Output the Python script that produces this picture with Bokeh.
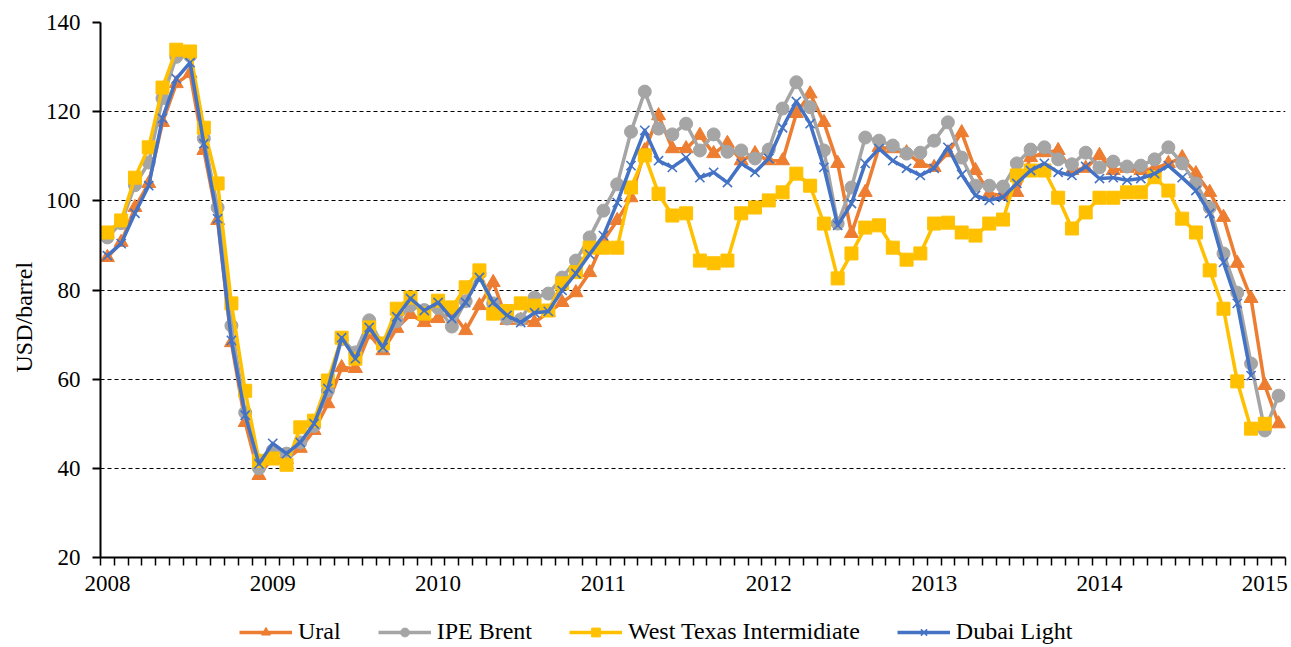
from bokeh.plotting import figure
from bokeh.layouts import column
from bokeh.models import Range1d, FixedTicker, Legend, LegendItem, Title
from bokeh.embed import file_html
from bokeh.resources import INLINE

# Monthly values, Jan 2008 onward (USD/barrel)
ural = [87.3, 90.7, 98.5, 103.9, 117.6, 126.3, 128.6, 111.3, 95.6, 68.2, 50.3, 38.4,
        42.5, 42.0, 44.5, 48.5, 54.5, 62.6, 62.4, 70.0, 66.4, 71.4, 74.5, 72.7,
        73.6, 75.0, 70.9, 76.5, 81.7, 73.2, 73.2, 72.7, 75.0, 77.2, 79.4, 83.9,
        91.1, 95.6, 100.7, 111.3, 119.1, 111.7, 111.7, 114.7, 110.6, 112.9, 109.0, 110.6,
        109.0, 109.0, 119.6, 124.0, 117.6, 108.4, 92.7, 101.9, 112.0, 111.7, 110.8, 108.4,
        107.5, 110.8, 115.3, 106.8, 101.6, 101.2, 101.9, 109.7, 110.8, 111.3, 106.8, 107.3,
        110.2, 106.8, 107.3, 106.8, 107.3, 108.4, 109.7, 106.1, 101.9, 96.3, 86.0, 78.1,
        58.6, 50.0]
brent = [91.8, 95.0, 103.5, 108.6, 123.0, 132.3, 132.5, 114.0, 98.5, 72.0, 52.5, 40.0,
         44.0, 43.3, 45.8, 49.5, 57.4, 69.0, 66.0, 73.2, 67.5, 73.0, 76.5, 75.5,
         76.0, 71.8, 77.5, 83.7, 77.0, 73.6, 73.4, 78.3, 79.2, 82.8, 86.6, 91.8,
         97.8, 103.7, 115.5, 124.5, 116.2, 114.9, 117.3, 111.3, 114.9, 111.0, 111.3, 109.5,
         111.5, 120.7, 126.6, 121.0, 111.3, 94.9, 103.0, 114.2, 113.5, 112.4, 110.6, 110.8,
         113.5, 117.6, 109.7, 103.4, 103.4, 103.2, 108.4, 111.5, 112.0, 109.3, 108.2, 110.8,
         107.5, 108.8, 107.7, 107.9, 109.3, 112.0, 108.4, 103.9, 98.5, 88.2, 79.4, 63.5,
         48.5, 56.3]
wti = [92.9, 95.6, 105.2, 112.0, 125.4, 133.9, 133.5, 116.4, 103.9, 77.0, 57.4, 41.7,
       42.2, 40.8, 49.2, 50.7, 59.7, 69.3, 64.6, 71.6, 68.0, 75.8, 78.3, 74.7,
       77.6, 76.1, 80.6, 84.4, 74.7, 75.3, 77.0, 76.5, 75.4, 81.5, 84.0, 89.5,
       89.5, 89.5, 103.0, 110.2, 101.6, 96.7, 97.2, 86.6, 86.0, 86.6, 97.2, 98.5,
       100.1, 101.9, 106.1, 103.4, 94.9, 82.6, 88.2, 94.0, 94.5, 89.5, 86.8, 88.2,
       94.9, 95.1, 92.9, 92.2, 94.9, 95.8, 105.7, 106.8, 106.8, 100.7, 93.8, 97.4,
       100.7, 100.7, 101.9, 101.9, 105.3, 102.3, 96.0, 92.9, 84.4, 75.8, 59.5, 48.9,
       50.0]
dubai = [87.7, 90.4, 97.2, 103.4, 118.5, 127.4, 131.0, 112.8, 96.0, 68.7, 51.9, 41.0,
         45.6, 43.3, 45.8, 50.0, 57.9, 69.3, 64.6, 71.6, 67.1, 74.0, 78.1, 75.4,
         77.2, 73.6, 77.2, 82.8, 77.2, 74.3, 72.7, 74.9, 75.2, 79.9, 83.7, 88.0,
         92.2, 99.6, 107.9, 115.8, 109.0, 107.5, 109.7, 105.2, 106.4, 104.1, 108.4, 106.4,
         109.5, 116.4, 122.3, 117.3, 107.5, 94.5, 99.4, 108.4, 111.7, 109.0, 107.3, 105.7,
         107.3, 112.0, 105.9, 101.2, 100.1, 100.8, 103.9, 106.8, 108.4, 106.4, 105.7, 107.7,
         105.0, 105.2, 104.6, 105.0, 106.1, 107.9, 105.2, 102.3, 97.2, 86.2, 77.0, 60.8]

years = ["2008", "2009", "2010", "2011", "2012", "2013", "2014", "2015"]
n_months = 86

FONT = "Liberation Serif"
LEG_FONT = "'Liberation Serif', serif"
TICK_FS = "23px"
W = 1290

p = figure(width=W, height=607, output_backend="svg", toolbar_location=None,
           x_range=Range1d(-0.5, n_months - 0.5), y_range=Range1d(20, 140),
           min_border_left=100, min_border_right=5, min_border_top=22, min_border_bottom=50)
p.outline_line_color = None
p.background_fill_color = "white"
p.border_fill_color = "white"

year_pos = [12 * k for k in range(len(years))]
xt = FixedTicker(ticks=year_pos, minor_ticks=[i - 0.5 for i in range(n_months + 1)])
p.xaxis.ticker = xt
p.xaxis.major_label_overrides = {pos: lab for pos, lab in zip(year_pos, years)}
p.xaxis.major_tick_out = 0
p.xaxis.major_tick_in = 0
p.xaxis.minor_tick_out = 8
p.xaxis.minor_tick_in = 0
p.xaxis.minor_tick_line_color = "black"
p.xaxis.minor_tick_line_width = 1.5
p.xaxis.axis_line_color = "black"
p.xaxis.axis_line_width = 2
p.xaxis.major_label_standoff = 10
p.xaxis.major_label_text_font = FONT
p.xaxis.major_label_text_font_size = TICK_FS
p.xaxis.major_label_text_color = "black"

p.yaxis.ticker = FixedTicker(ticks=[20, 40, 60, 80, 100, 120, 140])
p.yaxis.major_tick_out = 8
p.yaxis.major_tick_in = 0
p.yaxis.minor_tick_out = 0
p.yaxis.minor_tick_in = 0
p.yaxis.major_tick_line_width = 2
p.yaxis.major_tick_line_color = "black"
p.yaxis.axis_line_color = "black"
p.yaxis.axis_line_width = 2
p.yaxis.major_label_standoff = 12
p.yaxis.major_label_text_font = FONT
p.yaxis.major_label_text_font_size = TICK_FS
p.yaxis.major_label_text_color = "black"

# y-axis title, set a little below the middle of the plot as in the reference
p.add_layout(Title(text="USD/barrel", align="left", offset=185, vertical_align="middle",
                   text_font=FONT, text_font_size="24px", text_font_style="normal",
                   text_color="black"), "left")

p.xgrid.grid_line_color = None
p.ygrid.grid_line_color = "black"
p.ygrid.grid_line_dash = "4 3"
p.ygrid.grid_line_width = 1

series = [
    ("Ural", ural, "#ED7D31", "triangle", 14),
    ("IPE Brent", brent, "#A5A5A5", "circle", 13),
    ("West Texas Intermidiate", wti, "#FFC000", "square", 13),
    ("Dubai Light", dubai, "#4472C4", "x", 13),
]

# legend strip: a second, axis-less figure under the chart (its frame aligns with the chart's)
leg_fig = figure(width=W, height=40, output_backend="svg", toolbar_location=None,
                 x_range=Range1d(0, 1), y_range=Range1d(0, 1),
                 min_border=0, x_axis_location=None, y_axis_location=None)
leg_fig.outline_line_color = None
leg_fig.xgrid.visible = False
leg_fig.ygrid.visible = False

# legend proxies sit outside the strip's visible range, only their legend glyphs show
off = [-5.0, -4.0]
items = []
for name, vals, color, marker, size in series:
    xs = list(range(len(vals)))
    p.line(xs, vals, line_color=color, line_width=3.5, line_join="round")
    ll = leg_fig.line(off, off, line_color=color, line_width=3.5)
    if marker == "x":
        p.scatter(xs, vals, marker=marker, size=size, line_color=color, line_width=1.6)
        ls = leg_fig.scatter(off, off, marker=marker, size=size, line_color=color, line_width=1.6)
    else:
        p.scatter(xs, vals, marker=marker, size=size, fill_color=color, line_color=color)
        ls = leg_fig.scatter(off, off, marker=marker, size=size, fill_color=color, line_color=color)
    items.append(LegendItem(label=name, renderers=[ll, ls]))

legend = Legend(items=items, orientation="horizontal", location=(139, 2),
                glyph_width=53, glyph_height=22, label_height=22, label_standoff=6,
                spacing=37, padding=0, margin=0,
                label_text_font=LEG_FONT, label_text_font_size="24px", label_text_color="black",
                border_line_color=None, background_fill_alpha=0)
leg_fig.add_layout(legend, "center")

layout = column(p, leg_fig, spacing=0)
open("out.html", "w").write(file_html(layout, INLINE))
